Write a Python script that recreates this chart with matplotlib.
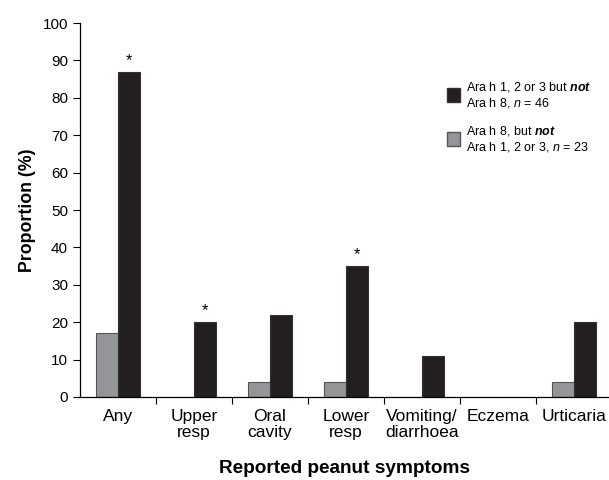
import numpy as np
import matplotlib.pyplot as plt
from matplotlib.patches import Patch

plt.rcParams['font.family'] = ['Liberation Sans', 'DejaVu Sans']
plt.rcParams['mathtext.fontset'] = 'custom'
plt.rcParams['mathtext.it'] = 'Liberation Sans:italic'
plt.rcParams['mathtext.bfit'] = 'Liberation Sans:bold:italic'

symptoms = ['Any', 'Upper\nresp', 'Oral\ncavity', 'Lower\nresp',
            'Vomiting/\ndiarrhoea', 'Eczema', 'Urticaria']
ara8_only = [17, 0, 4, 4, 0, 0, 4]        # Ara h 8 but not Ara h 1-3, n=23
ara123_only = [87, 20, 22, 35, 11, 0, 20]  # Ara h 1-3 but not Ara h 8, n=46
significant = [True, True, False, True, False, False, False]

black = '#231f20'
grey = '#939598'

fig = plt.figure(figsize=(6.09, 4.8), dpi=100)
ax = fig.add_axes([0.131, 0.173, 0.869, 0.779])

x = np.arange(len(symptoms))
w = 0.29
ax.bar(x - w / 2, ara8_only, w, color=grey, edgecolor='#555555', linewidth=0.8)
ax.bar(x + w / 2, ara123_only, w, color=black, edgecolor='#333333', linewidth=0.8)

for xi, v, s in zip(x, ara123_only, significant):
    if s:
        ax.text(xi + w / 2, v + 1.0, '*', ha='center', va='bottom', fontsize=12)

ax.set_ylim(0, 100)
ax.set_xlim(-0.5, 6.46)
ax.set_yticks(range(0, 101, 10))
ax.tick_params(axis='y', labelsize=11, length=5, direction='out', width=0.8)

ax.set_xticks(x)
ax.set_xticklabels(symptoms, fontsize=12.5, linespacing=1.05)
ax.tick_params(axis='x', which='major', length=0, pad=9)
ax.set_xticks(np.arange(0.5, 6.5, 1), minor=True)
ax.tick_params(axis='x', which='minor', length=5, direction='out', width=0.8)

for side in ['top', 'right']:
    ax.spines[side].set_visible(False)
for side in ['left', 'bottom']:
    ax.spines[side].set_linewidth(0.9)

ax.set_ylabel('Proportion (%)', fontsize=12.8, fontweight='bold', labelpad=5)
ax.set_xlabel('Reported peanut symptoms', fontsize=13.7, fontweight='bold', labelpad=14)

handles = [Patch(facecolor=black, edgecolor='#333333'),
           Patch(facecolor=grey, edgecolor='#555555')]
labels = ['Ara h 1, 2 or 3 but $\\mathbfit{not}$\nAra h 8, $n$ = 46',
          'Ara h 8, but $\\mathbfit{not}$\nAra h 1, 2 or 3, $n$ = 23']
ax.legend(handles, labels, loc='upper left', bbox_to_anchor=(0.673, 0.878),
          frameon=False, fontsize=9.0, handlelength=1.0, handleheight=1.3,
          handletextpad=0.5, labelspacing=1.1)

fig.savefig('out.png', dpi=100)
